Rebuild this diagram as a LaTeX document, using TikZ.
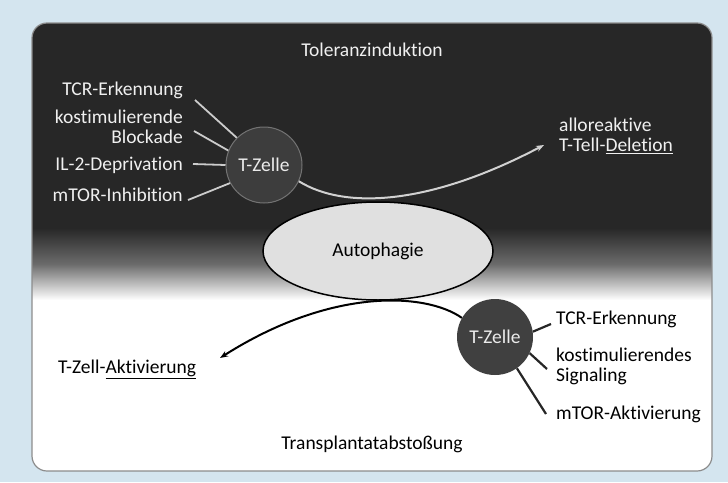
\documentclass[tikz,border=0pt]{standalone}
\usepackage{fontspec}
\setmainfont[Ligatures=NoCommon]{Carlito}
\usetikzlibrary{arrows.meta,shapes.geometric}
\definecolor{bgblue}{HTML}{D4E5EF}
\definecolor{panel}{HTML}{272727}
\definecolor{cellL}{HTML}{3D3D3D}
\definecolor{cellR}{HTML}{404040}
\definecolor{autoph}{HTML}{E0E0E0}

\begin{document}
\begin{tikzpicture}[x=1pt,y=-1pt,
  txt/.style={font=\fontsize{19.5}{20}\selectfont,inner sep=0pt},
  wtxt/.style={txt,text=white!94!black},
  btxt/.style={txt,text=black},
  cell/.style={circle,minimum size=76pt,inner sep=0pt,font=\fontsize{19.5}{20}\selectfont,text=white!92!black}]
\useasboundingbox (0,0) rectangle (728,482);
\fill[bgblue] (0,0) rectangle (728,482);

% panel with dark top fading to white
\begin{scope}
\clip[rounded corners=15pt] (32,23) rectangle (712,471);
\fill[white] (32,23) rectangle (712,471);
\fill[panel] (32,23) rectangle (712,229);
\shade[top color=panel,bottom color=white,middle color=black!58] (32,228) rectangle (712,300);
\end{scope}
\draw[black!45,line width=1.2pt,rounded corners=15pt] (32,23) rectangle (712,471);

\node[wtxt] (tol) at (372,50) {Toleranzinduktion};
\node[btxt] (trans) at (372,444) {Transplantatabstoßung};

\node[cell,fill=cellL,draw=black!55,line width=1pt] (tzL) at (264,165) {T-Zelle};
\node[cell,fill=cellR] (tzR) at (495,337) {T-Zelle};
\node[ellipse,minimum width=230pt,minimum height=98pt,fill=autoph,draw=black,line width=1.5pt,
  font=\fontsize{19.5}{20}\selectfont] (auto) at (378,251) {Autophagie};

% left inputs
\node[wtxt,anchor=east] (tcrL) at (183,90) {TCR-Erkennung};
\node[wtxt,anchor=east,align=right] (kostL) at (183,127) {kostimulierende\\Blockade};
\node[wtxt,anchor=east] (il2L) at (183,165) {IL-2-Deprivation};
\node[wtxt,anchor=east] (mtorL) at (183,195) {mTOR-Inhibition};
\node[wtxt,anchor=west,align=left] (del) at (559,136) {alloreaktive\\T-Tell-\underline{Deletion}};

% right inputs
\node[btxt,anchor=west] (tcrR) at (556,319) {TCR-Erkennung};
\node[btxt,anchor=west,align=left] (kostR) at (556,366) {kostimulierendes\\Signaling};
\node[btxt,anchor=west] (mtorR) at (556,414) {mTOR-Aktivierung};
\node[btxt,anchor=west] (akt) at (58,369) {T-Zell-\underline{Aktivierung}};

\coordinate (a1) at (195,100);
\coordinate (a2) at (194,131);
\coordinate (a3) at (193,164);
\coordinate (a4) at (188,200);
\coordinate (b1) at (551,324);
\coordinate (b2) at (547,369);
\coordinate (b3) at (546,414);
\coordinate (delTip) at (544,145);
\coordinate (aktTip) at (220,358);

\draw[white!80!black,line width=1.8pt] (a1)--(tzL.135) (a2)--(tzL.158) (a3)--(tzL.180) (a4)--(tzL.208);
\draw[black!85,line width=2.2pt] (tzR.8)--(b1) (tzR.-25)--(b2) (tzR.-55)--(b3);

\draw[white!82!black,line width=2pt,-{Stealth[length=8pt,width=6pt]}] (tzL.-25) .. controls (345,210) and (430,205) .. (delTip);
\draw[black,line width=2pt,-{Stealth[length=8pt,width=6pt]}] (tzR.150) .. controls (425,292) and (330,288) .. (aktTip);
\end{tikzpicture}
\end{document}
